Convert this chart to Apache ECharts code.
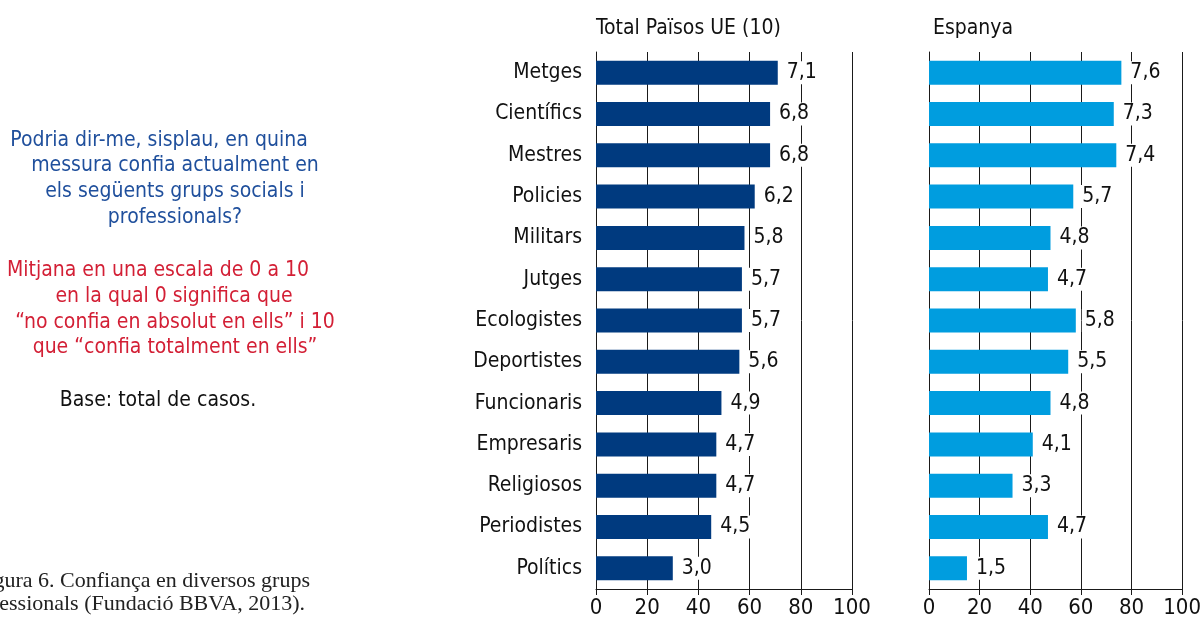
<!DOCTYPE html>
<html><head><meta charset="utf-8">
<script src="https://cdn.jsdelivr.net/npm/echarts@6/dist/echarts.min.js"></script>
<style>html,body{margin:0;padding:0;background:#fff}#c{width:1204px;height:619px}</style>
</head><body><div id="c"></div>
<script>
var categories = ['Metges','Científics','Mestres','Policies','Militars','Jutges','Ecologistes','Deportistes','Funcionaris','Empresaris','Religiosos','Periodistes','Polítics'];
var euValues = [7.1,6.8,6.8,6.2,5.8,5.7,5.7,5.6,4.9,4.7,4.7,4.5,3.0];
var esValues = [7.6,7.3,7.4,5.7,4.8,4.7,5.8,5.5,4.8,4.1,3.3,4.7,1.5];
var tickValues = [0,20,40,60,80,100];
var panelTitles = ['Total Països UE (10)','Espanya'];

var FONT = "'Liberation Sans Narrow','DejaVu Sans Condensed','Roboto',sans-serif";
var SERIF = "'Liberation Serif','DejaVu Serif',serif";
var chart = echarts.init(document.getElementById('c'), null, {renderer:'canvas'});

function xAxis(idx){
  return {
    gridIndex: idx, type:'value', min:0, max:100, interval:20,
    axisLine:{show:true, lineStyle:{color:'#1a1a1a', width:1}},
    axisTick:{show:true, length:6, lineStyle:{color:'#1a1a1a'}},
    axisLabel:{color:'#111', fontSize:22, fontFamily:FONT, margin:8},
    splitLine:{show:true, lineStyle:{color:'#1a1a1a', width:1}}
  };
}
function yAxis(idx, showLabels){
  return {
    gridIndex: idx, type:'category', data:categories, inverse:true,
    axisLine:{show:true, lineStyle:{color:'#1a1a1a', width:1}},
    axisTick:{show:false},
    axisLabel:{show:showLabels, color:'#111', fontSize:21, fontFamily:FONT, margin:14},
    splitLine:{show:false}
  };
}
function series(idx, vals, color){
  return {
    type:'bar', xAxisIndex:idx, yAxisIndex:idx, barWidth:24,
    data: vals.map(function(v){return v*10;}),
    itemStyle:{color:color},
    label:{show:true, position:'right', distance:6, color:'#111', fontSize:21, fontFamily:FONT,
      backgroundColor:'#fff', padding:[1,3,1,3],
      formatter:function(p){return (p.value/10).toFixed(1).replace('.',',');}},
    animation:false
  };
}

var leftBlue = [
  {t:'Podria dir-me, sisplau, en quina', x:159, y:141},
  {t:'messura confia actualment en', x:175, y:166},
  {t:'els següents grups socials i', x:175, y:192},
  {t:'professionals?', x:175, y:218}
];
var leftRed = [
  {t:'Mitjana en una escala de 0 a 10', x:158, y:271},
  {t:'en la qual 0 significa que', x:174, y:297},
  {t:'“no confia en absolut en ells” i 10', x:175, y:323},
  {t:'que “confia totalment en ells”', x:175, y:348}
];
var graphics = [];
leftBlue.forEach(function(l){graphics.push({type:'text', x:l.x, y:l.y, style:{text:l.t, fill:'#1f4f9c', font:'21px '+FONT, textAlign:'center', textVerticalAlign:'middle'}});});
leftRed.forEach(function(l){graphics.push({type:'text', x:l.x, y:l.y, style:{text:l.t, fill:'#d31f35', font:'21px '+FONT, textAlign:'center', textVerticalAlign:'middle'}});});
graphics.push({type:'text', x:158, y:401, style:{text:'Base: total de casos.', fill:'#111', font:'21px '+FONT, textAlign:'center', textVerticalAlign:'middle'}});
graphics.push({type:'text', x:310, y:581, style:{text:'Figura 6. Confiança en diversos grups', fill:'#222', font:'22px '+SERIF, textAlign:'right', textVerticalAlign:'middle'}});
graphics.push({type:'text', x:305, y:604, style:{text:'professionals (Fundació BBVA, 2013).', fill:'#222', font:'22px '+SERIF, textAlign:'right', textVerticalAlign:'middle'}});

chart.setOption({
  animation:false,
  backgroundColor:'#fff',
  title:[
    {text:panelTitles[0], left:591, top:13, textStyle:{color:'#111', fontSize:21, fontWeight:'normal', fontFamily:FONT}},
    {text:panelTitles[1], left:928, top:13, textStyle:{color:'#111', fontSize:21, fontWeight:'normal', fontFamily:FONT}}
  ],
  grid:[
    {left:596, width:256, top:52, bottom:29},
    {left:929, width:256, top:52, bottom:29}
  ],
  xAxis:[xAxis(0), xAxis(1)],
  yAxis:[yAxis(0,true), yAxis(1,false)],
  series:[series(0, euValues, '#003a7f'), series(1, esValues, '#009ddf')],
  graphic: graphics
});
</script></body></html>
